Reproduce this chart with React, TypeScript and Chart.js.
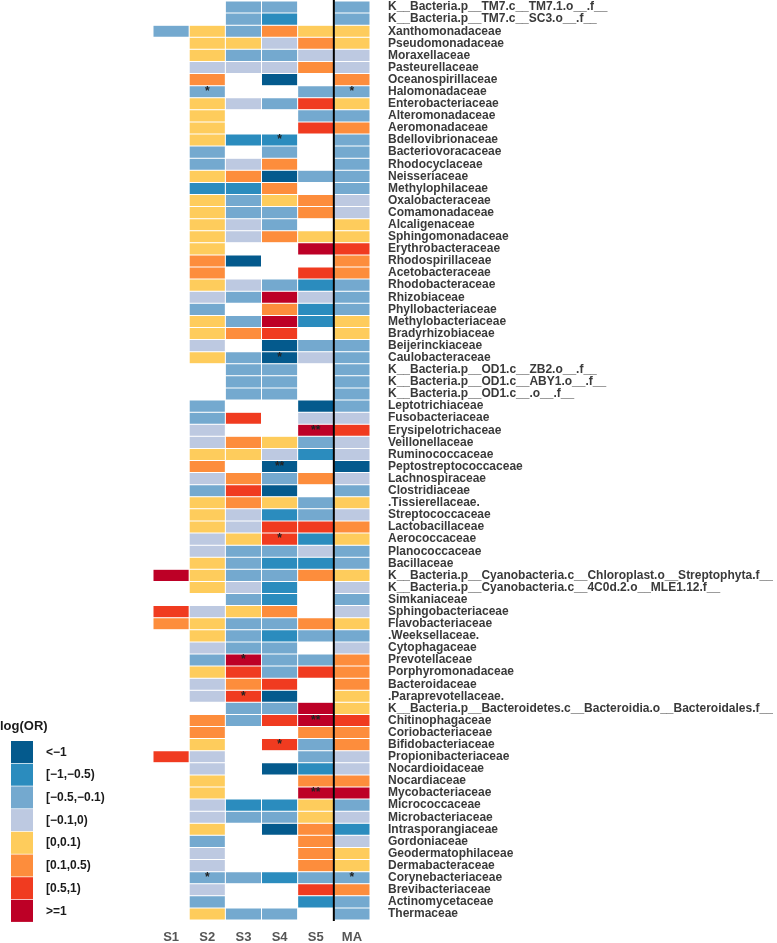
import { useEffect, useRef } from "react";
import { Chart, registerables } from "chart.js";

Chart.register(...registerables);

const families = [
  "K__Bacteria.p__TM7.c__TM7.1.o__.f__",
  "K__Bacteria.p__TM7.c__SC3.o__.f__",
  "Xanthomonadaceae",
  "Pseudomonadaceae",
  "Moraxellaceae",
  "Pasteurellaceae",
  "Oceanospirillaceae",
  "Halomonadaceae",
  "Enterobacteriaceae",
  "Alteromonadaceae",
  "Aeromonadaceae",
  "Bdellovibrionaceae",
  "Bacteriovoracaceae",
  "Rhodocyclaceae",
  "Neisseriaceae",
  "Methylophilaceae",
  "Oxalobacteraceae",
  "Comamonadaceae",
  "Alcaligenaceae",
  "Sphingomonadaceae",
  "Erythrobacteraceae",
  "Rhodospirillaceae",
  "Acetobacteraceae",
  "Rhodobacteraceae",
  "Rhizobiaceae",
  "Phyllobacteriaceae",
  "Methylobacteriaceae",
  "Bradyrhizobiaceae",
  "Beijerinckiaceae",
  "Caulobacteraceae",
  "K__Bacteria.p__OD1.c__ZB2.o__.f__",
  "K__Bacteria.p__OD1.c__ABY1.o__.f__",
  "K__Bacteria.p__OD1.c__.o__.f__",
  "Leptotrichiaceae",
  "Fusobacteriaceae",
  "Erysipelotrichaceae",
  "Veillonellaceae",
  "Ruminococcaceae",
  "Peptostreptococcaceae",
  "Lachnospiraceae",
  "Clostridiaceae",
  ".Tissierellaceae.",
  "Streptococcaceae",
  "Lactobacillaceae",
  "Aerococcaceae",
  "Planococcaceae",
  "Bacillaceae",
  "K__Bacteria.p__Cyanobacteria.c__Chloroplast.o__Streptophyta.f__",
  "K__Bacteria.p__Cyanobacteria.c__4C0d.2.o__MLE1.12.f__",
  "Simkaniaceae",
  "Sphingobacteriaceae",
  "Flavobacteriaceae",
  ".Weeksellaceae.",
  "Cytophagaceae",
  "Prevotellaceae",
  "Porphyromonadaceae",
  "Bacteroidaceae",
  ".Paraprevotellaceae.",
  "K__Bacteria.p__Bacteroidetes.c__Bacteroidia.o__Bacteroidales.f__",
  "Chitinophagaceae",
  "Coriobacteriaceae",
  "Bifidobacteriaceae",
  "Propionibacteriaceae",
  "Nocardioidaceae",
  "Nocardiaceae",
  "Mycobacteriaceae",
  "Micrococcaceae",
  "Microbacteriaceae",
  "Intrasporangiaceae",
  "Gordoniaceae",
  "Geodermatophilaceae",
  "Dermabacteraceae",
  "Corynebacteriaceae",
  "Brevibacteriaceae",
  "Actinomycetaceae",
  "Thermaceae",
];

const samples = ["S1", "S2", "S3", "S4", "S5", "MA"];

const binLabels = ["<\u22121", "[\u22121,\u22120.5)", "[\u22120.5,\u22120.1)", "[\u22120.1,0)", "[0,0.1)", "[0.1,0.5)", "[0.5,1)", ">=1"];
const binColors = ["#045A8D", "#2B8CBE", "#74A9CF", "#BDC9E1", "#FECC5C", "#FD8D3C", "#F03B20", "#BD0026"];

const n = null;
// log(OR) bin index per family (0 = <-1 ... 7 = >=1), null = not present
const binS1 = [
  n, n, 2, n, n, n, n, n, n, n,
  n, n, n, n, n, n, n, n, n, n,
  n, n, n, n, n, n, n, n, n, n,
  n, n, n, n, n, n, n, n, n, n,
  n, n, n, n, n, n, n, 7, n, n,
  6, 5, n, n, n, n, n, n, n, n,
  n, n, 6, n, n, n, n, n, n, n,
  n, n, n, n, n, n,
];
const binS2 = [
  n, n, 4, 4, 4, 3, 5, 2, 4, 4,
  4, 4, 2, 2, 4, 1, 4, 4, 4, 4,
  4, 5, 5, 4, 3, 2, 4, 4, 3, 4,
  n, n, n, 2, 2, 3, 3, 4, 5, 3,
  2, 4, 4, 4, 3, 3, 4, 4, 4, n,
  3, 4, 4, 3, 2, 4, 3, 3, n, 5,
  5, 4, 3, 3, 4, 4, 3, 3, 4, 2,
  3, 3, 2, 3, 2, 4,
];
const binS3 = [
  2, 2, 2, 4, 2, 3, n, n, 3, n,
  n, 1, n, 3, 5, 1, 2, 2, 3, 3,
  n, 0, n, 3, 2, n, 2, 5, n, 2,
  2, 2, 2, n, 6, n, 5, 4, n, 5,
  6, 5, 3, 3, 4, 2, 2, 2, 3, 2,
  4, 2, 2, 2, 7, 6, 5, 6, 2, 2,
  n, n, n, n, n, n, 1, 2, n, n,
  n, n, 2, n, n, 2,
];
const binS4 = [
  2, 1, 5, 3, 2, 3, 0, n, 2, n,
  n, 1, 2, 5, 0, 5, 4, 2, 2, 5,
  n, n, n, 2, 7, 5, 7, 6, 0, 0,
  2, 2, 2, n, n, n, 4, 3, 0, 2,
  0, 4, 1, 6, 6, 2, 1, 2, 1, 1,
  5, 2, 1, 2, 2, 2, 6, 0, 2, 6,
  n, 6, n, 0, n, n, 1, 2, 0, n,
  n, n, 1, n, n, 2,
];
const binS5 = [
  n, n, 4, 5, 3, 5, n, 2, 6, 2,
  6, n, n, n, 2, n, 5, 5, n, 4,
  7, n, 6, 1, 3, 1, 1, n, 2, 3,
  n, n, n, 0, 3, 7, 2, 1, n, 5,
  n, 2, 2, 6, 1, 3, 1, 5, n, n,
  n, 5, 2, n, 2, 6, n, n, 7, 7,
  5, 2, 2, 1, 5, 7, 4, 4, 5, 5,
  5, 5, 2, 6, 1, n,
];
const binMA = [
  2, 2, 4, 4, 3, 3, 5, 2, 4, 2,
  5, 2, 2, 2, 2, 2, 3, 3, 4, 4,
  6, 5, 5, 2, 2, 2, 4, 4, 2, 2,
  2, 2, 2, 2, 3, 6, 3, 3, 0, 3,
  2, 4, 3, 5, 4, 2, 2, 4, 3, 2,
  3, 4, 2, 3, 5, 5, 5, 4, 4, 6,
  5, 5, 3, 3, 5, 7, 2, 3, 1, 3,
  4, 4, 2, 5, 2, 2,
];

// significance marks
const starFamilies = [
  "Halomonadaceae", "Halomonadaceae", "Bdellovibrionaceae", "Caulobacteraceae",
  "Erysipelotrichaceae", "Peptostreptococcaceae", "Aerococcaceae", "Prevotellaceae",
  ".Paraprevotellaceae.", "Chitinophagaceae", "Bifidobacteriaceae", "Mycobacteriaceae",
  "Corynebacteriaceae", "Corynebacteriaceae",
];
const starSamples = ["S2", "MA", "S4", "S4", "S5", "S4", "S4", "S3", "S3", "S5", "S4", "S5", "S2", "MA"];
const starMarks = ["*", "*", "*", "*", "**", "**", "*", "*", "*", "**", "*", "**", "*", "*"];

const FONT = "'Liberation Sans', Arial, Helvetica, sans-serif";

export default function App() {
  const ref = useRef<HTMLCanvasElement | null>(null);

  useEffect(() => {
    const columns = [binS1, binS2, binS3, binS4, binS5, binMA];

    const dividerPlugin = {
      id: "divider",
      afterDatasetsDraw(chart: any) {
        const { ctx, chartArea, scales } = chart;
        const x = scales.x.getPixelForValue(4.5);
        ctx.save();
        ctx.strokeStyle = "#000";
        ctx.lineWidth = 2;
        ctx.beginPath();
        ctx.moveTo(x, 0);
        ctx.lineTo(x, chartArea.bottom + 1);
        ctx.stroke();
        // stars
        ctx.fillStyle = "#222";
        ctx.font = `bold 12px ${FONT}`;
        ctx.textAlign = "center";
        ctx.textBaseline = "middle";
        starFamilies.forEach((f, i) => {
          const yi = families.indexOf(f);
          const xi = samples.indexOf(starSamples[i]);
          const px = scales.x.getPixelForValue(xi);
          const py = scales.y.getPixelForValue(yi);
          ctx.fillText(starMarks[i], px, py);
        });
        ctx.restore();
      },
    };

    const legendPlugin = {
      id: "binLegend",
      afterDraw(chart: any) {
        const { ctx } = chart;
        ctx.save();
        ctx.fillStyle = "#1a1a1a";
        ctx.font = `bold 13px ${FONT}`;
        ctx.textAlign = "left";
        ctx.textBaseline = "middle";
        ctx.fillText("log(OR)", 0, 726);
        const top = 741;
        const h = 22.7;
        binLabels.forEach((lab, i) => {
          const y = top + i * h;
          ctx.fillStyle = binColors[i];
          ctx.fillRect(11, y, 22, h - 0.7);
          ctx.fillStyle = "#1a1a1a";
          ctx.font = `bold 12px ${FONT}`;
          ctx.fillText(lab, 46, y + h / 2);
        });
        ctx.restore();
      },
    };

    const chart = new Chart(ref.current as HTMLCanvasElement, {
      type: "bar",
      data: {
        labels: families,
        datasets: columns.map((col, ci) => ({
          label: samples[ci],
          data: col.map((v) => (v == null ? null : [ci - 0.5, ci + 0.5])) as any,
          backgroundColor: col.map((v) => (v == null ? "rgba(0,0,0,0)" : binColors[v])),
          borderColor: "#ffffff",
          borderWidth: 0.5,
          borderSkipped: false,
          grouped: false,
          barPercentage: 1,
          categoryPercentage: 1,
          inflateAmount: 0,
        })),
      },
      plugins: [dividerPlugin, legendPlugin],
      options: {
        indexAxis: "y",
        animation: false,
        responsive: true,
        maintainAspectRatio: false,
        devicePixelRatio: 1,
        layout: { padding: { left: 153, top: 1, right: 0, bottom: 0 } },
        plugins: {
          legend: { display: false },
          tooltip: { enabled: false },
        },
        scales: {
          x: {
            type: "linear",
            position: "bottom",
            min: -0.5,
            max: 5.5,
            grid: { display: false, drawTicks: false },
            border: { display: false },
            afterBuildTicks: (s: any) => {
              s.ticks = samples.map((_, i) => ({ value: i }));
            },
            afterFit: (s: any) => {
              s.height = 23;
              s.paddingLeft = 0;
              s.paddingRight = 0;
            },
            ticks: {
              autoSkip: false,
              maxRotation: 0,
              padding: 10,
              color: "#555555",
              font: { family: FONT, size: 13, weight: "bold" },
              callback: (v: any) => samples[Math.round(Number(v))] ?? "",
            },
          },
          y: {
            type: "category",
            position: "right",
            offset: true,
            grid: { display: false, drawTicks: false },
            border: { display: false },
            afterFit: (s: any) => {
              s.width = 407;
              s.paddingTop = 0;
              s.paddingBottom = 0;
            },
            ticks: {
              autoSkip: false,
              padding: 18,
              color: "#3a3a3a",
              font: { family: FONT, size: 12, weight: "bold" },
            },
          },
        },
      } as any,
    });
    return () => chart.destroy();
  }, []);

  return (
    <div style={{ position: "absolute", left: 0, top: 0, width: 777, height: 943 }}>
      <canvas ref={ref} />
    </div>
  );
}
